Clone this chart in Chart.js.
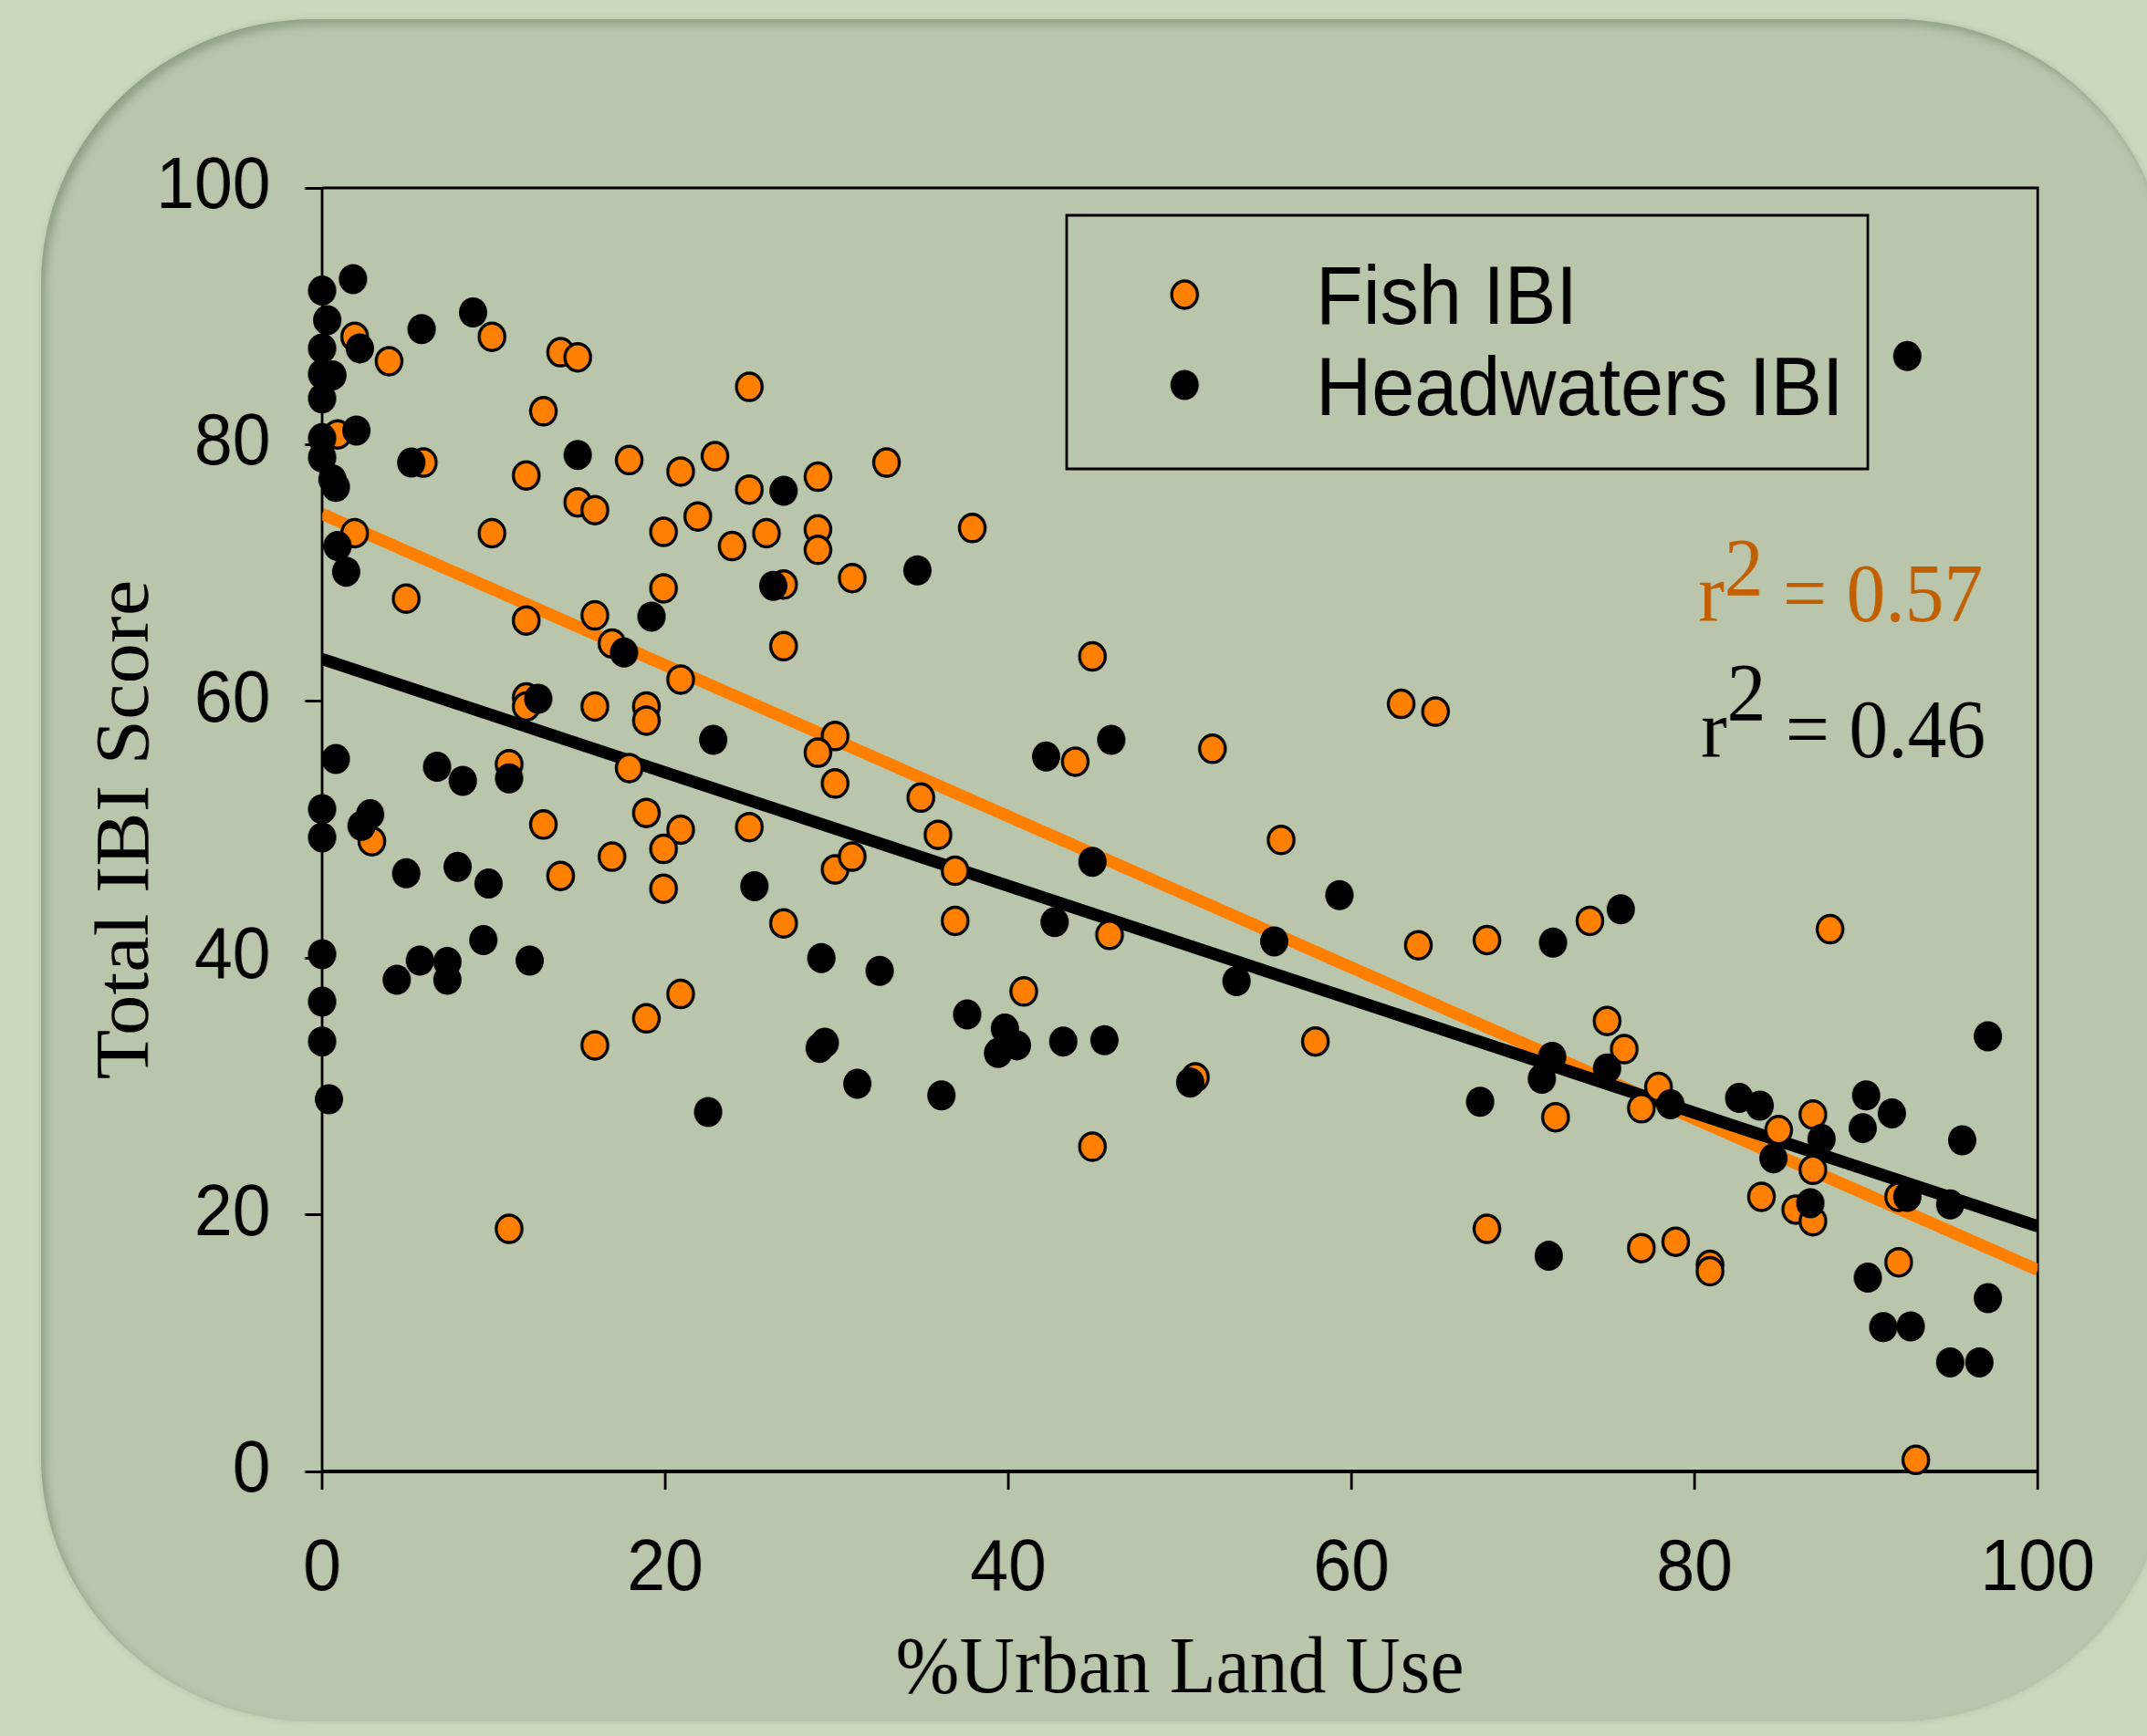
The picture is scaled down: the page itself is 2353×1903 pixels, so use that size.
<!DOCTYPE html>
<html>
<head>
<meta charset="utf-8">
<title>Total IBI Score vs % Urban Land Use</title>
<script src="https://cdn.jsdelivr.net/npm/chart.js@4.4.0/dist/chart.umd.min.js"></script>
<style>
  html, body { margin: 0; padding: 0; overflow: hidden; background: #ccd8bb; width: 2353px; height: 1903px; }
  .panel {
    position: absolute; left: 45px; top: 21px; width: 2331px; height: 1866px;
    border-radius: 300px / 290px; background: #b9c6ac;
    box-shadow: inset 5px 6px 10px rgba(95, 115, 85, 0.45), 0 0 6px rgba(120, 140, 110, 0.3);
  }
  /* the original picture is a little squeezed sideways, so the canvas is drawn wider and squeezed to 2353px */
  #wrap { position: absolute; left: 0; top: 0; transform: scaleX(0.94008); transform-origin: 0 0; }
</style>
</head>
<body>
<div class="panel"></div>
<div id="wrap"><canvas id="chart" width="2503" height="1903"></canvas></div>
<script>
// series names and axis titles
const seriesNames = ["Fish IBI", "Headwaters IBI"];
const xTitle = "%Urban Land Use";
const yTitle = "Total IBI Score";
const xTickValues = [0, 20, 40, 60, 80, 100];
const yTickValues = [0, 20, 40, 60, 80, 100];

// Fish IBI sites
const fishX = [1.9, 3.9, 9.9, 13.9, 14.9, 24.9, 12.9, 0.9, 5.9, 11.9,
  17.9, 20.9, 22.9, 24.9, 28.9, 32.9, 14.9, 15.9, 21.9, 19.9,
  23.9, 25.9, 28.9, 28.9, 30.9, 26.9, 1.9, 4.9, 9.9, 11.9,
  15.9, 16.9, 19.9, 20.9, 26.9, 11.9, 11.9, 15.9, 18.9, 18.9,
  17.9, 29.9, 28.9, 29.9, 10.9, 12.9, 18.9, 20.9, 24.9, 2.9,
  13.9, 16.9, 19.9, 19.9, 29.9, 30.9, 26.9, 20.9, 18.9, 15.9,
  10.9, 37.9, 44.9, 62.9, 64.9, 43.9, 51.9, 34.9, 35.9, 55.9,
  36.9, 36.9, 45.9, 63.9, 40.9, 57.9, 50.9, 44.9, 67.9, 73.9,
  87.9, 74.9, 75.9, 71.9, 77.9, 76.9, 84.9, 86.9, 86.9, 83.9,
  85.9, 86.9, 91.9, 67.9, 76.9, 78.9, 80.9, 80.9, 91.9, 92.9];
const fishY = [88.4, 86.5, 88.4, 87.2, 86.8, 84.5, 82.6, 80.8, 78.6, 77.6,
  78.8, 77.9, 79.1, 76.5, 77.5, 78.6, 75.5, 74.9, 74.4, 73.2,
  72.1, 73.1, 73.4, 71.8, 69.6, 69.1, 73.1, 68.0, 73.1, 66.3,
  66.7, 64.5, 68.8, 61.7, 64.3, 60.3, 59.6, 59.6, 59.6, 58.5,
  54.8, 57.3, 56.0, 53.6, 55.1, 50.4, 51.3, 50.0, 50.2, 49.1,
  46.4, 47.9, 48.5, 45.4, 46.9, 47.9, 42.7, 37.2, 35.3, 33.2,
  18.9, 73.5, 63.5, 59.8, 59.2, 55.3, 56.3, 52.5, 49.6, 49.2,
  46.8, 42.9, 41.8, 41.0, 37.4, 33.5, 30.7, 25.3, 41.4, 42.9,
  42.25, 35.1, 32.9, 27.6, 29.95, 28.3, 26.6, 27.8, 23.5, 21.4,
  20.4, 19.5, 21.4, 18.9, 17.4, 17.9, 16.1, 15.6, 16.3, 0.9];

// Headwaters IBI sites
const headX = [0, 1.8, 0.3, 2.2, 0, 5.8, 8.8, 0, 0.6, 0,
  2.0, 0, 0, 5.2, 14.9, 26.9, 0.6, 0.8, 0.9, 1.4,
  17.6, 19.2, 26.3, 12.6, 22.8, 0.8, 6.7, 8.2, 10.9, 0,
  2.8, 2.3, 0, 4.9, 7.9, 9.7, 25.2, 9.4, 0, 5.7,
  7.3, 7.3, 4.35, 12.1, 29.1, 32.5, 0, 0, 0.4, 29.3,
  29.0, 31.2, 22.5, 34.7, 46.0, 42.2, 44.9, 59.3, 42.7, 55.5,
  53.3, 37.6, 39.8, 40.5, 39.4, 43.2, 45.6, 50.6, 36.1, 71.75,
  75.7, 97.1, 71.7, 71.1, 74.9, 67.5, 78.6, 82.6, 83.8, 87.4,
  84.6, 90.0, 91.5, 89.8, 95.6, 86.75, 92.4, 94.9, 71.5, 90.1,
  97.1, 91.0, 92.6, 94.9, 96.6, 92.4];
const headY = [92.0, 92.9, 89.7, 87.5, 87.5, 89.0, 90.3, 85.5, 85.4, 83.6,
  81.1, 80.5, 79.0, 78.6, 79.2, 76.4, 77.3, 76.7, 72.1, 70.1,
  63.8, 66.6, 69.0, 60.2, 57.0, 55.5, 54.9, 53.8, 54.0, 51.6,
  51.2, 50.3, 49.4, 46.6, 47.1, 45.8, 45.6, 41.4, 40.3, 39.8,
  39.7, 38.3, 38.3, 39.8, 40.0, 39.0, 36.6, 33.5, 29.0, 33.4,
  33.0, 30.2, 28.0, 70.2, 57.0, 55.7, 47.5, 44.9, 42.8, 41.3,
  38.2, 35.6, 34.5, 33.2, 32.6, 33.5, 33.6, 30.3, 29.3, 41.2,
  43.8, 33.9, 32.3, 30.6, 31.4, 28.8, 28.6, 29.1, 28.5, 25.9,
  24.4, 29.3, 27.9, 26.75, 25.8, 20.9, 21.4, 20.8, 16.8, 15.1,
  13.5, 11.25, 11.3, 8.5, 8.5, 86.9];

// regression lines, value at x = 0 and x = 100
const fitX = [0, 100];
const fishFit = [74.6, 15.7];
const headFit = [63.3, 19.1];
const r2Values = [0.57, 0.46];

const ORANGE = "#ff8000";
const ORANGE_TEXT = "#c25f00";
const SANS = '"Liberation Sans", Arial, sans-serif';
const SERIF = '"Liberation Serif", "Times New Roman", serif';

const pts = (xs, ys) => xs.map((x, i) => ({ x: x, y: ys[i] }));

function drawR2(ctx, x, y, color, value, rise) {
  ctx.font = "91px " + SERIF;
  ctx.fillStyle = color;
  ctx.textAlign = "left";
  ctx.textBaseline = "alphabetic";
  const parts = [["r", 0], ["2", rise], [" = " + value.toFixed(2), 0]];
  for (const [t, dy] of parts) {
    ctx.fillText(t, x, y - dy);
    x += ctx.measureText(t).width;
  }
}

const framePlugin = {
  id: "frame",
  beforeDatasetsDraw(chart) {
    // top and right sides of the plot box
    const { ctx, chartArea: a } = chart;
    ctx.save();
    ctx.strokeStyle = "#000";
    ctx.lineWidth = 3;
    ctx.beginPath();
    ctx.moveTo(a.left, a.top);
    ctx.lineTo(a.right, a.top);
    ctx.lineTo(a.right, a.bottom);
    ctx.stroke();
    ctx.restore();
  },
  afterDraw(chart) {
    const ctx = chart.ctx;
    ctx.save();
    // legend box
    ctx.strokeStyle = "#000";
    ctx.lineWidth = 3;
    ctx.strokeRect(1243.5, 236, 934, 278);

    // legend markers
    ctx.beginPath();
    ctx.arc(1381, 323, 15, 0, Math.PI * 2);
    ctx.fillStyle = ORANGE;
    ctx.fill();
    ctx.lineWidth = 3.5;
    ctx.stroke();
    ctx.beginPath();
    ctx.arc(1381, 422, 16.5, 0, Math.PI * 2);
    ctx.fillStyle = "#000";
    ctx.fill();

    // legend labels
    ctx.font = "90px " + SANS;
    ctx.fillStyle = "#000";
    ctx.textAlign = "left";
    ctx.textBaseline = "alphabetic";
    ctx.fillText(seriesNames[0], 1534, 355);
    ctx.fillText(seriesNames[1], 1534, 455);

    // r squared notes
    drawR2(ctx, 1980, 681, ORANGE_TEXT, r2Values[0], 28);
    drawR2(ctx, 1983, 830, "#000", r2Values[1], 40);
    ctx.restore();
  }
};

const ctx = document.getElementById("chart").getContext("2d");
new Chart(ctx, {
  type: "scatter",
  data: {
    datasets: [
      {
        label: seriesNames[1],
        data: pts(headX, headY),
        backgroundColor: "#000",
        borderColor: "#000",
        borderWidth: 0,
        pointRadius: 16.5,
        order: 0,
        clip: false
      },
      {
        label: seriesNames[0],
        data: pts(fishX, fishY),
        backgroundColor: ORANGE,
        borderColor: "#000",
        borderWidth: 3.5,
        pointRadius: 15,
        order: 1,
        clip: false
      },
      {
        type: "line",
        label: "Headwaters fit",
        data: pts(fitX, headFit),
        borderColor: "#000",
        borderWidth: 13.5,
        pointRadius: 0,
        tension: 0,
        order: 2
      },
      {
        type: "line",
        label: "Fish fit",
        data: pts(fitX, fishFit),
        borderColor: ORANGE,
        borderWidth: 13.5,
        pointRadius: 0,
        tension: 0,
        order: 3
      }
    ]
  },
  options: {
    responsive: false,
    animation: false,
    devicePixelRatio: 1,
    layout: { padding: { left: 75.5, right: 127.5, top: 206, bottom: 0 } },
    plugins: {
      legend: { display: false },
      tooltip: { enabled: false }
    },
    scales: {
      x: {
        type: "linear",
        min: 0,
        max: 100,
        afterBuildTicks: (s) => { s.ticks = xTickValues.map((v) => ({ value: v })); },
        afterFit: (s) => { s.height = 290; },
        grid: { display: true, drawOnChartArea: false, drawTicks: true, tickLength: 20, color: "#000", lineWidth: 3 },
        border: { display: true, color: "#000", width: 4 },
        ticks: { color: "#000", font: { family: SANS, size: 80 }, padding: 40, maxRotation: 0 },
        title: {
          display: true, text: xTitle, color: "#000",
          font: { family: SERIF, size: 89 }, padding: { top: 0, bottom: 17.6 }
        }
      },
      y: {
        type: "linear",
        min: 0,
        max: 100,
        afterBuildTicks: (s) => { s.ticks = yTickValues.map((v) => ({ value: v })); },
        afterFit: (s) => { s.width = 300; },
        grid: { display: true, drawOnChartArea: false, drawTicks: true, tickLength: 20, color: "#000", lineWidth: 3 },
        border: { display: true, color: "#000", width: 3 },
        ticks: { color: "#000", font: { family: SANS, size: 80 }, padding: 40 },
        title: {
          display: true, text: yTitle, color: "#000",
          font: { family: SERIF, size: 89 }, padding: { top: 19.6, bottom: 0 }
        }
      }
    }
  },
  plugins: [framePlugin]
});
</script>
</body>
</html>
